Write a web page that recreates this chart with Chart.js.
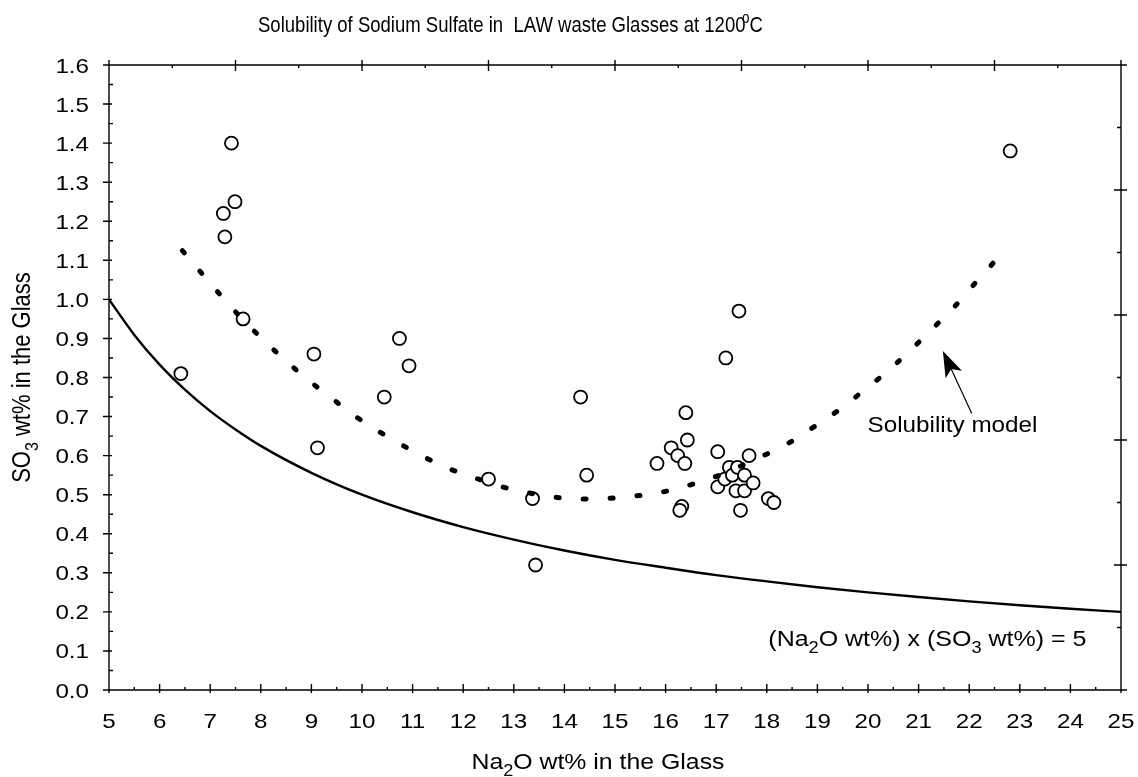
<!DOCTYPE html>
<html>
<head>
<meta charset="utf-8">
<title>Solubility of Sodium Sulfate in LAW waste Glasses</title>
<script src="https://cdn.jsdelivr.net/npm/chart.js@4.4.1/dist/chart.umd.min.js"></script>
<style>
  html, body { margin: 0; padding: 0; background: #fff; }
</style>
</head>
<body>
<canvas id="chart" width="1138" height="777"></canvas>
<script>
const FONT = "'Liberation Sans', Arial, Helvetica, sans-serif";
const TEXT_STRETCH = 1.15;   // lettering is a little wide in this figure

// Measured glasses: Na2O wt% vs SO3 wt%
const glassNa2O = [6.42, 7.42, 7.26, 7.49, 7.29, 7.65, 9.05, 9.12, 10.44, 10.74, 10.93,
    12.50, 13.37, 13.43, 14.32, 14.44, 15.83, 16.11, 16.24, 16.38, 16.40, 16.43, 16.32, 16.28,
    17.03, 17.03, 17.17, 17.19, 17.26, 17.32, 17.39, 17.42, 17.45, 17.48, 17.56, 17.56, 17.65, 17.73,
    18.03, 18.14, 22.81];
const glassSO3 = [0.81, 1.40, 1.22, 1.25, 1.16, 0.95, 0.86, 0.62, 0.75, 0.90, 0.83,
    0.54, 0.49, 0.32, 0.75, 0.55, 0.58, 0.62, 0.60, 0.58, 0.71, 0.64, 0.47, 0.46,
    0.61, 0.52, 0.54, 0.85, 0.57, 0.55, 0.51, 0.57, 0.97, 0.46, 0.55, 0.51, 0.60, 0.53,
    0.49, 0.48, 1.38];

// Solubility model curve
const modelNa2O = [6.45, 6.83, 7.23, 7.64, 8.10, 8.56, 9.02, 9.47, 9.91, 10.37, 10.82, 11.28,
    11.73, 12.19, 12.64, 13.09, 13.54, 14.00, 14.46, 14.92, 15.36, 15.82, 16.27, 16.73, 17.17,
    17.63, 18.08, 18.54, 18.98, 19.45, 19.89, 20.35, 20.81, 21.25, 21.70, 22.10, 22.53];
const modelSO3 = [1.125, 1.067, 1.007, 0.949, 0.890, 0.835, 0.785, 0.740, 0.697, 0.659, 0.625, 0.593,
    0.566, 0.545, 0.525, 0.510, 0.499, 0.491, 0.489, 0.491, 0.496, 0.504, 0.517, 0.535, 0.555,
    0.582, 0.609, 0.640, 0.678, 0.719, 0.764, 0.812, 0.866, 0.922, 0.980, 1.039, 1.101];

// (Na2O wt%) x (SO3 wt%) = 5 line
const limitNa2O = [5, 5.5, 6, 6.5, 7, 7.5, 8, 9, 10, 11, 12, 13, 14, 15, 16, 17, 18, 19, 20, 21, 22, 23, 24, 25];
const limitSO3 = [1.000, 0.909, 0.833, 0.769, 0.714, 0.667, 0.625, 0.556, 0.500, 0.455, 0.417, 0.385,
    0.357, 0.333, 0.313, 0.294, 0.278, 0.263, 0.250, 0.238, 0.227, 0.217, 0.208, 0.200];

// axis ticks
const xTicks = [5, 6, 7, 8, 9, 10, 11, 12, 13, 14, 15, 16, 17, 18, 19, 20, 21, 22, 23, 24, 25];
const yTicks = [0.0, 0.1, 0.2, 0.3, 0.4, 0.5, 0.6, 0.7, 0.8, 0.9, 1.0, 1.1, 1.2, 1.3, 1.4, 1.5, 1.6];
const topTicks = [5, 7.5, 10, 12.5, 15, 17.5, 20, 22.5, 25];
const rightTicks = [0, 0.32, 0.64, 0.96, 1.28, 1.6];

const toPoints = (xs, ys) => xs.map((v, i) => ({ x: v, y: ys[i] }));
const midpoints = arr => arr.slice(1).map((v, i) => (v + arr[i]) / 2);

// draws a run of text pieces, some of them sub/superscript
function drawRich(ctx, parts, x, y, size, align, fitWidth, stretch) {
    const fontFor = k => `${k ? Math.round(size * 0.72) : size}px ${FONT}`;
    const widths = parts.map(p => { ctx.font = fontFor(p.k); return ctx.measureText(p.t).width + (p.dx || 0); });
    const natural = widths.reduce((a, b) => a + b, 0);
    const sx = fitWidth ? fitWidth / natural : (stretch || 1);
    const total = natural * sx;
    const start = align === 'center' ? x - total / 2 : align === 'right' ? x - total : x;
    ctx.save();
    ctx.translate(start, y);
    ctx.scale(sx, 1);
    ctx.textAlign = 'left';
    ctx.textBaseline = 'alphabetic';
    let off = 0;
    parts.forEach((p, i) => {
        ctx.font = fontFor(p.k);
        const dy = p.k === 'sub' ? size * 0.32 : p.k === 'sup' ? -size * 0.42 : 0;
        ctx.fillText(p.t, off + (p.dx || 0), dy);
        off += widths[i];
    });
    ctx.restore();
}

const decorations = {
    id: 'decorations',
    afterDatasetsDraw(chart) {
        const { ctx, chartArea: a, scales: { x, y } } = chart;
        ctx.save();
        ctx.strokeStyle = '#000';
        ctx.fillStyle = '#000';
        ctx.lineWidth = 1.4;

        // frame and tick marks
        ctx.beginPath();
        ctx.rect(a.left, a.top, a.right - a.left, a.bottom - a.top);
        const seg = (x1, y1, x2, y2) => { ctx.moveTo(x1, y1); ctx.lineTo(x2, y2); };
        xTicks.forEach(v => { const p = x.getPixelForValue(v); seg(p, a.bottom - 6, p, a.bottom + 3); });
        midpoints(xTicks).forEach(v => { const p = x.getPixelForValue(v); seg(p, a.bottom - 3, p, a.bottom); });
        topTicks.forEach(v => { const p = x.getPixelForValue(v); seg(p, a.top - 5, p, a.top + 6); });
        midpoints(topTicks).forEach(v => { const p = x.getPixelForValue(v); seg(p, a.top, p, a.top + 3); });
        yTicks.forEach(v => { const p = y.getPixelForValue(v); seg(a.left - 6, p, a.left + 3, p); });
        midpoints(yTicks).forEach(v => { const p = y.getPixelForValue(v); seg(a.left, p, a.left + 4, p); });
        rightTicks.forEach(v => { const p = y.getPixelForValue(v); seg(a.right - 7, p, a.right + 6, p); });
        midpoints(rightTicks).forEach(v => { const p = y.getPixelForValue(v); seg(a.right - 4, p, a.right, p); });
        ctx.stroke();

        // tick labels
        xTicks.forEach(v => drawRich(ctx, [{ t: String(v) }], x.getPixelForValue(v), a.bottom + 38, 21, 'center', 0, TEXT_STRETCH));
        yTicks.forEach(v => drawRich(ctx, [{ t: v.toFixed(1) }], a.left - 20, y.getPixelForValue(v) + 7.5, 21, 'right', 0, TEXT_STRETCH));

        // title
        drawRich(ctx, [
            { t: 'Solubility of Sodium Sulfate in  LAW waste Glasses at 1200' },
            { t: 'o', k: 'sup', dx: -4 },
            { t: 'C' },
        ], 258, 32, 22, 'left', 505);

        // axis titles
        drawRich(ctx, [
            { t: 'Na' }, { t: '2', k: 'sub' }, { t: 'O wt% in the Glass' },
        ], 598, 769, 22, 'center', 253);

        ctx.save();
        ctx.translate(30, (a.top + a.bottom) / 2);
        ctx.rotate(-Math.PI / 2);
        ctx.scale(1, TEXT_STRETCH);
        drawRich(ctx, [
            { t: 'SO' }, { t: '3', k: 'sub' }, { t: ' wt% in the Glass' },
        ], 0, 0, 22, 'center');
        ctx.restore();

        // model label and arrow
        drawRich(ctx, [{ t: 'Solubility model' }], x.getPixelForValue(19.99), y.getPixelForValue(0.661), 22, 'left', 170);
        const tipX = x.getPixelForValue(21.48), tipY = y.getPixelForValue(0.868);
        const tailX = x.getPixelForValue(22.05), tailY = y.getPixelForValue(0.708);
        const ang = Math.atan2(tailY - tipY, tailX - tipX);
        ctx.lineWidth = 1.2;
        ctx.beginPath();
        ctx.moveTo(tailX, tailY);
        ctx.lineTo(tipX + Math.cos(ang) * 18, tipY + Math.sin(ang) * 18);
        ctx.stroke();
        ctx.save();
        ctx.translate(tipX, tipY);
        ctx.rotate(ang);
        ctx.beginPath();
        ctx.moveTo(0, 0);
        ctx.lineTo(26, -9);
        ctx.lineTo(20, 0);
        ctx.lineTo(26, 9);
        ctx.closePath();
        ctx.fill();
        ctx.restore();

        // product line label
        drawRich(ctx, [
            { t: '(Na' }, { t: '2', k: 'sub' }, { t: 'O wt%) x (SO' }, { t: '3', k: 'sub' }, { t: ' wt%) = 5' },
        ], x.getPixelForValue(18.03), y.getPixelForValue(0.113), 22, 'left', 318);

        ctx.restore();
    }
};

new Chart(document.getElementById('chart'), {
    type: 'scatter',
    data: {
        datasets: [
            {
                label: 'Solubility model',
                data: toPoints(modelNa2O, modelSO3),
                showLine: true,
                borderColor: '#000',
                borderWidth: 5,
                borderDash: [3, 24],
                borderCapStyle: 'round',
                cubicInterpolationMode: 'monotone',
                pointRadius: 0,
                order: 0,
            },
            {
                label: 'Glasses',
                data: toPoints(glassNa2O, glassSO3),
                pointRadius: 6.5,
                pointBorderWidth: 1.8,
                pointBackgroundColor: '#fff',
                pointBorderColor: '#000',
                order: 1,
            },
            {
                label: 'Na2O x SO3 = 5',
                data: toPoints(limitNa2O, limitSO3),
                showLine: true,
                borderColor: '#000',
                borderWidth: 2.4,
                cubicInterpolationMode: 'monotone',
                pointRadius: 0,
                order: 2,
            },
        ],
    },
    options: {
        responsive: false,
        animation: false,
        devicePixelRatio: 1,
        layout: { padding: { left: 0, right: 17, top: 65, bottom: 0 } },
        plugins: { legend: { display: false }, tooltip: { enabled: false } },
        scales: {
            x: {
                type: 'linear',
                min: 5,
                max: 25,
                afterFit: s => { s.height = 87; s.paddingLeft = 0; s.paddingRight = 0; },
                ticks: { display: false },
                grid: { display: false, drawTicks: false },
                border: { display: false },
            },
            y: {
                min: 0,
                max: 1.6,
                afterFit: s => { s.width = 109; s.paddingTop = 0; s.paddingBottom = 0; },
                ticks: { display: false },
                grid: { display: false, drawTicks: false },
                border: { display: false },
            },
        },
    },
    plugins: [decorations],
});
</script>
</body>
</html>
